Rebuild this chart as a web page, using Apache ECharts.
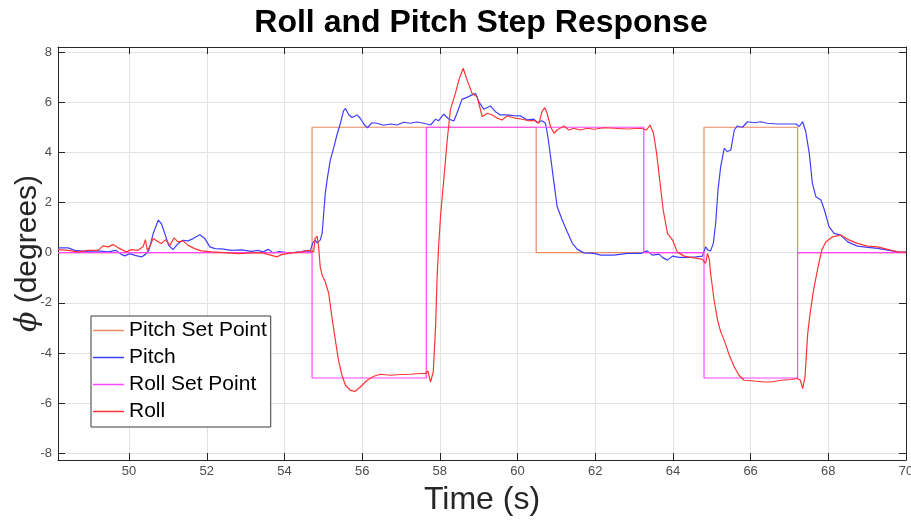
<!DOCTYPE html>
<html>
<head>
<meta charset="utf-8">
<title>Roll and Pitch Step Response</title>
<script src="https://cdn.jsdelivr.net/npm/echarts@6/dist/echarts.min.js"></script>
<style>
  html, body { margin: 0; padding: 0; background: #fff; }
  #chart { width: 911px; height: 523px; }
</style>
</head>
<body>
<div id="chart"></div>
<script>
// Time axis range (seconds) and tick positions
const timeRange = [48.17, 70];
const timeTicks = [50, 52, 54, 56, 58, 60, 62, 64, 66, 68, 70];
const degRange = [-8.27, 8.2];
const degTicks = [-8, -6, -4, -2, 0, 2, 4, 6, 8];

// Commanded set points (step changes; repeated times give vertical edges)
const pitchSetTime = [48.17, 54.71, 54.71, 60.48, 60.48, 64.80, 64.80, 67.21, 67.21, 70];
const pitchSetDeg  = [0, 0, 5, 5, 0, 0, 5, 5, 0, 0];
const rollSetTime  = [48.17, 54.71, 54.71, 57.65, 57.65, 63.25, 63.25, 64.80, 64.80, 67.21, 67.21, 70];
const rollSetDeg   = [0, 0, -5, -5, 5, 5, 0, 0, -5, -5, 0, 0];

// Measured pitch angle
const pitchTime = [48.17, 48.43, 48.60, 48.86, 49.20, 49.46, 49.67, 49.80, 49.89, 50.02, 50.15, 50.32, 50.42, 50.51,
  50.62, 50.75, 50.83, 50.92, 51.02, 51.13, 51.26, 51.39, 51.52, 51.65, 51.82, 51.95, 52.08, 52.21, 52.38, 52.64,
  52.89, 53.15, 53.32, 53.45, 53.58, 53.71, 53.88, 54.10, 54.27, 54.41, 54.53, 54.66, 54.73, 54.79, 54.84, 54.92,
  54.97, 55.01, 55.05, 55.11, 55.18, 55.27, 55.35, 55.44, 55.52, 55.57, 55.65, 55.74, 55.87, 55.95, 56.06, 56.14,
  56.25, 56.38, 56.55, 56.73, 56.90, 57.07, 57.24, 57.41, 57.59, 57.76, 57.89, 57.97, 58.10, 58.23, 58.36, 58.44,
  58.57, 58.70, 58.83, 58.92, 59.00, 59.13, 59.30, 59.43, 59.56, 59.73, 59.90, 60.08, 60.25, 60.42, 60.51, 60.63,
  60.72, 60.78, 60.85, 60.94, 61.02, 61.15, 61.28, 61.41, 61.54, 61.71, 61.97, 62.14, 62.48, 62.83, 63.17, 63.34,
  63.47, 63.64, 63.73, 63.86, 63.99, 64.16, 64.37, 64.59, 64.76, 64.84, 64.90, 64.97, 65.04, 65.10, 65.16, 65.23,
  65.32, 65.40, 65.49, 65.58, 65.66, 65.79, 65.92, 66.09, 66.26, 66.43, 66.69, 66.95, 67.17, 67.25, 67.34, 67.42,
  67.51, 67.59, 67.68, 67.81, 67.90, 68.02, 68.15, 68.32, 68.50, 68.75, 69.01, 69.27, 69.53, 69.79, 70.00];
const pitchDeg = [0.19, 0.19, 0.09, 0.05, 0.07, 0.03, 0.09, -0.07, -0.13, -0.04, -0.11, -0.17, -0.07, 0.09,
  0.76, 1.29, 1.16, 0.76, 0.29, 0.12, 0.36, 0.49, 0.47, 0.56, 0.71, 0.56, 0.23, 0.16, 0.15, 0.09,
  0.11, 0.05, 0.09, 0.03, 0.13, -0.01, 0.04, -0.01, 0.01, 0.03, 0.07, 0.06, 0.39, 0.50, 0.39, 0.50,
  0.77, 1.56, 2.36, 3.03, 3.69, 4.20, 4.69, 5.16, 5.65, 5.75, 5.51, 5.39, 5.49, 5.36, 5.09, 4.98,
  5.18, 5.16, 5.08, 5.13, 5.09, 5.20, 5.16, 5.21, 5.16, 5.09, 5.32, 5.26, 5.52, 5.33, 5.25, 5.56,
  6.11, 6.19, 6.29, 6.35, 6.02, 5.72, 5.85, 5.62, 5.49, 5.49, 5.46, 5.45, 5.29, 5.32, 5.18, 5.26,
  5.16, 4.62, 3.83, 2.76, 1.83, 1.30, 0.83, 0.37, 0.13, -0.01, -0.03, -0.10, -0.10, -0.03, -0.03, 0.07,
  -0.10, -0.06, -0.19, -0.30, -0.14, -0.19, -0.19, -0.17, -0.14, 0.23, 0.10, 0.07, 0.37, 1.16, 2.50, 3.43,
  4.16, 4.03, 4.09, 4.89, 5.05, 5.00, 5.22, 5.18, 5.22, 5.16, 5.13, 5.13, 5.13, 5.03, 5.22, 4.82,
  3.96, 2.76, 2.23, 2.10, 1.70, 1.03, 0.77, 0.70, 0.43, 0.26, 0.21, 0.17, 0.10, 0.03, 0.02];

// Measured roll angle
const rollTime = [48.17, 48.43, 48.69, 48.94, 49.20, 49.33, 49.46, 49.59, 49.72, 49.85, 49.93, 50.06, 50.23, 50.36,
  50.42, 50.47, 50.53, 50.62, 50.75, 50.83, 50.94, 51.05, 51.16, 51.26, 51.39, 51.52, 51.69, 51.86, 52.12, 52.47,
  52.81, 53.15, 53.41, 53.67, 53.80, 53.93, 54.18, 54.44, 54.61, 54.66, 54.75, 54.79, 54.84, 54.88, 54.92, 54.97,
  55.05, 55.14, 55.22, 55.31, 55.39, 55.48, 55.57, 55.70, 55.82, 55.95, 56.13, 56.30, 56.47, 56.73, 56.98, 57.24,
  57.50, 57.63, 57.69, 57.76, 57.83, 57.89, 57.93, 57.97, 58.02, 58.10, 58.19, 58.27, 58.40, 58.49, 58.60, 58.70,
  58.83, 58.96, 59.09, 59.22, 59.35, 59.48, 59.60, 59.73, 59.95, 60.12, 60.29, 60.46, 60.55, 60.63, 60.70, 60.76,
  60.85, 60.94, 61.02, 61.19, 61.32, 61.45, 61.62, 61.80, 61.97, 62.22, 62.48, 62.83, 63.17, 63.32, 63.41, 63.50,
  63.58, 63.67, 63.75, 63.86, 63.99, 64.11, 64.29, 64.46, 64.63, 64.76, 64.84, 64.89, 64.94, 64.97, 65.06, 65.15,
  65.23, 65.32, 65.45, 65.58, 65.70, 65.83, 66.09, 66.35, 66.52, 66.78, 67.04, 67.21, 67.28, 67.34, 67.40, 67.47,
  67.53, 67.62, 67.72, 67.83, 67.94, 68.11, 68.32, 68.50, 68.75, 69.01, 69.27, 69.53, 69.79, 70.00];
const rollDeg = [0.12, 0.09, 0.03, 0.09, 0.09, 0.27, 0.23, 0.32, 0.19, 0.09, 0.03, 0.12, 0.09, 0.23,
  0.52, 0.09, 0.23, 0.56, 0.43, 0.36, 0.52, 0.29, 0.59, 0.43, 0.47, 0.29, 0.16, 0.07, 0.03, 0.00,
  -0.04, -0.01, 0.00, -0.11, -0.17, -0.08, -0.01, 0.03, 0.09, 0.13, 0.03, 0.57, 0.66, 0.23, -0.57, -0.90,
  -1.16, -1.63, -2.56, -3.49, -4.29, -4.89, -5.29, -5.49, -5.53, -5.36, -5.09, -4.93, -4.85, -4.89, -4.86, -4.85,
  -4.82, -4.82, -4.72, -5.16, -4.76, -2.96, -0.96, 0.30, 1.50, 2.89, 4.49, 5.69, 6.35, 6.89, 7.35, 6.89,
  6.35, 6.22, 5.42, 5.56, 5.49, 5.36, 5.29, 5.45, 5.36, 5.32, 5.26, 5.26, 5.16, 5.62, 5.78, 5.56,
  5.02, 4.76, 4.89, 5.05, 4.89, 4.96, 4.89, 4.96, 4.92, 4.98, 4.96, 4.93, 4.96, 4.89, 5.09, 4.76,
  3.96, 2.76, 1.70, 0.77, 0.50, 0.03, -0.14, -0.19, -0.23, -0.27, -0.43, -0.03, -0.30, -0.83, -1.90, -2.69,
  -3.16, -3.49, -4.09, -4.56, -4.89, -5.09, -5.12, -5.16, -5.16, -5.09, -5.06, -5.02, -5.09, -5.42, -4.96, -3.23,
  -2.43, -1.50, -0.70, 0.10, 0.43, 0.63, 0.70, 0.53, 0.37, 0.26, 0.23, 0.13, 0.03, 0.02];

const seriesNames = ['Pitch Set Point', 'Pitch', 'Roll Set Point', 'Roll'];
const seriesColors = ['#EA8A63', '#3F3FFF', '#FF45FF', '#FF3535'];

function pairs(ts, vs) {
  return ts.map((t, i) => [t, vs[i]]);
}

const axisColor = '#262626';
const labelFont = "'Liberation Sans Narrow', 'Liberation Sans', Arial, sans-serif";
const textFont = "'Liberation Sans', Arial, Helvetica, sans-serif";

function frameX(position, main) {
  return {
    type: 'value', position: position, min: timeRange[0], max: timeRange[1],
    axisLine: { show: true, onZero: false, lineStyle: { color: axisColor, width: 1 } },
    axisTick: { show: true, inside: true, length: 7, customValues: timeTicks, lineStyle: { color: axisColor } },
    axisLabel: main ? { show: true, customValues: timeTicks, color: '#4d4d4d', fontSize: 13, fontFamily: labelFont, margin: 5 } : { show: false },
    splitLine: { show: main, lineStyle: { color: '#e2e2e2', width: 1 } },
    name: main ? 'Time (s)' : '',
    nameLocation: 'middle', nameGap: 24, nameMoveOverlap: false,
    nameTextStyle: { fontSize: 32, color: axisColor, fontFamily: textFont, verticalAlign: 'top' }
  };
}

function frameY(position, main) {
  return {
    type: 'value', position: position, min: degRange[0], max: degRange[1],
    axisLine: { show: true, onZero: false, lineStyle: { color: axisColor, width: 1 } },
    axisTick: { show: true, inside: true, length: 7, customValues: degTicks, lineStyle: { color: axisColor } },
    axisLabel: main ? { show: true, customValues: degTicks, color: '#4d4d4d', fontSize: 13, fontFamily: labelFont, margin: 6 } : { show: false },
    splitLine: { show: main, lineStyle: { color: '#e2e2e2', width: 1 } },
    name: main ? '{phi|ϕ} (degrees)' : '',
    nameLocation: 'middle', nameGap: 15, nameMoveOverlap: false,
    nameTextStyle: {
      fontSize: 30, color: axisColor, fontFamily: textFont,
      rich: { phi: { fontSize: 30, fontStyle: 'italic', fontFamily: "'DejaVu Serif', serif", color: axisColor } }
    }
  };
}

const seriesData = [
  pairs(pitchSetTime, pitchSetDeg),
  pairs(pitchTime, pitchDeg),
  pairs(rollSetTime, rollSetDeg),
  pairs(rollTime, rollDeg)
];

const chart = echarts.init(document.getElementById('chart'), null, { renderer: 'canvas' });
chart.setOption({
  animation: false,
  backgroundColor: '#ffffff',
  title: {
    text: 'Roll and Pitch Step Response',
    left: 476, top: 2, textAlign: 'center',
    textStyle: { fontSize: 32, fontWeight: 'bold', color: '#000', fontFamily: textFont }
  },
  grid: { left: 58, right: 5, top: 47, bottom: 63, containLabel: false, outerBoundsMode: 'none' },
  legend: {
    orient: 'vertical', left: 91, top: 316,
    data: seriesNames.map(n => ({ name: n, icon: 'rect' })),
    backgroundColor: '#ffffff', borderColor: '#3a3a3a', borderWidth: 1,
    padding: [4, 4, 5, 2], itemGap: 6, itemWidth: 31, itemHeight: 1.5,
    textStyle: { fontSize: 21, color: '#000', fontFamily: textFont }
  },
  xAxis: [frameX('bottom', true), frameX('top', false)],
  yAxis: [frameY('left', true), frameY('right', false)],
  series: seriesNames.map((name, i) => ({
    name: name, type: 'line', xAxisIndex: 0, yAxisIndex: 0,
    data: seriesData[i], symbol: 'none', smooth: false,
    lineStyle: { color: seriesColors[i], width: 1.2 },
    itemStyle: { color: seriesColors[i] },
    z: 2 + i
  }))
});
</script>
</body>
</html>
